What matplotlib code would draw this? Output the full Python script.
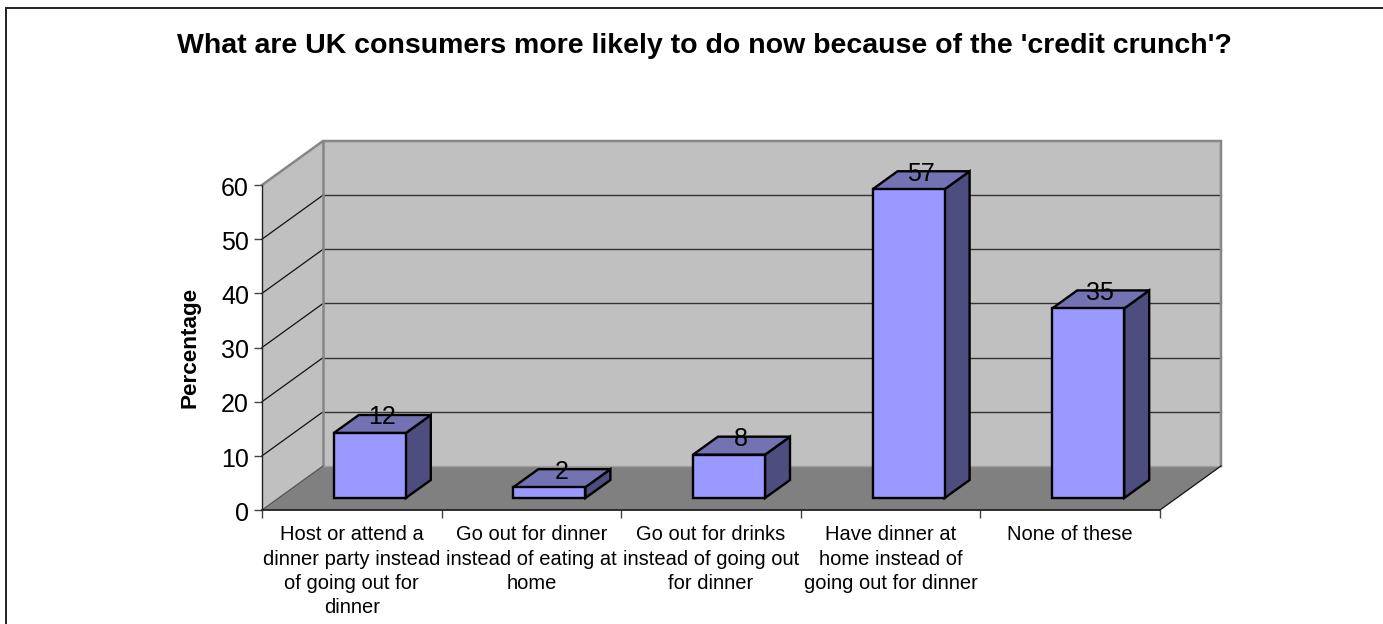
import matplotlib
matplotlib.use("Agg")
import matplotlib.pyplot as plt
from matplotlib.lines import Line2D
from matplotlib.patches import Polygon
from matplotlib.ticker import FixedLocator
from matplotlib.transforms import ScaledTranslation

categories = [
    "Host or attend a\ndinner party instead\nof going out for\ndinner",
    "Go out for dinner\ninstead of eating at\nhome",
    "Go out for drinks\ninstead of going out\nfor dinner",
    "Have dinner at\nhome instead of\ngoing out for dinner",
    "None of these",
]
percentages = [12, 2, 8, 57, 35]
y_ticks = [0, 10, 20, 30, 40, 50, 60]
title = "What are UK consumers more likely to do now because of the 'credit crunch'?"
y_label = "Percentage"

W, H = 1383, 624
plt.rcParams["font.family"] = ["Liberation Sans", "DejaVu Sans"]
fig = plt.figure(figsize=(W / 100, H / 100), dpi=100, facecolor="white")

# Front plane of the pseudo-3D box, in figure pixels
left, right, bottom, top = 262, 1160, 510, 185
ax = fig.add_axes([left / W, 1 - bottom / H, (right - left) / W, (bottom - top) / H])
ax.set_xlim(0, len(categories))
ax.set_ylim(0, 60)
ax.patch.set_visible(False)

cat_px = (right - left) / len(categories)
val_px = (bottom - top) / 60
# Oblique depth of the box and of the bars, in data units
box_dx, box_dy = 61 / cat_px, 44 / val_px
bar_dx, bar_dy = 25 / cat_px, 18 / val_px
base_dx, base_dy = 18 / cat_px, 12 / val_px
half_width = 36 / cat_px
n = len(categories)


def poly(pts, face, edge="none", lw=0.0, z=1):
    ax.add_patch(Polygon(pts, closed=True, facecolor=face, edgecolor=edge,
                         linewidth=lw, zorder=z, clip_on=False, joinstyle="miter"))


# Back wall, side wall and floor
poly([(box_dx, box_dy), (n + box_dx, box_dy), (n + box_dx, 60 + box_dy), (box_dx, 60 + box_dy)], "#c0c0c0", z=1)
poly([(0, 0), (box_dx, box_dy), (box_dx, 60 + box_dy), (0, 60)], "#c0c0c0", z=1)
poly([(0, 0), (n, 0), (n + box_dx, box_dy), (box_dx, box_dy)], "#808080", z=1.5)

# Gridlines wrap from the side wall across the back wall
for v in y_ticks[1:-1]:
    ax.plot([0, box_dx], [v, v + box_dy], color="#111111", lw=0.9, zorder=2, clip_on=False)
    ax.plot([box_dx, n + box_dx], [v + box_dy, v + box_dy], color="#333333", lw=1.0, zorder=2, clip_on=False)

# Grey box outline
grey = "#868686"
ax.plot([0, box_dx, n + box_dx, n + box_dx], [60, 60 + box_dy, 60 + box_dy, box_dy],
        color=grey, lw=1.8, zorder=2, clip_on=False, solid_joinstyle="miter")
ax.plot([box_dx, box_dx], [box_dy, 60 + box_dy], color=grey, lw=1.8, zorder=2, clip_on=False)
ax.plot([box_dx, n + box_dx], [box_dy, box_dy], color="#a0a0a0", lw=1.0, zorder=2, clip_on=False)
ax.plot([0, box_dx], [0, box_dy], color="#555555", lw=0.9, zorder=2, clip_on=False)
ax.plot([n, n + box_dx], [0, box_dy], color="#111111", lw=0.9, zorder=2, clip_on=False)

# Bars as three visible faces
for i, v in enumerate(percentages):
    x0 = i + 0.5 + base_dx - half_width
    x1 = i + 0.5 + base_dx + half_width
    y0 = base_dy
    y1 = base_dy + v
    poly([(x1, y0), (x1 + bar_dx, y0 + bar_dy), (x1 + bar_dx, y1 + bar_dy), (x1, y1)],
         "#4d4d80", "black", 1.7, 3)
    poly([(x0, y1), (x1, y1), (x1 + bar_dx, y1 + bar_dy), (x0 + bar_dx, y1 + bar_dy)],
         "#7373b3", "black", 1.7, 3)
    poly([(x0, y0), (x1, y0), (x1, y1), (x0, y1)], "#9999ff", "black", 1.7, 3.1)
    ax.text(x0 + half_width + 12 / cat_px, y1 + 15.5 / val_px, str(v), fontsize=18,
            ha="center", va="center", color="black", zorder=4)

# Axes
for s in ("top", "right"):
    ax.spines[s].set_visible(False)
ax.spines["left"].set_color("#222222")
ax.spines["left"].set_linewidth(1.0)
ax.spines["left"].set_zorder(2.5)
ax.spines["bottom"].set_color("#222222")
ax.spines["bottom"].set_linewidth(1.3)
ax.spines["bottom"].set_zorder(2.5)

ax.set_yticks(y_ticks)
ax.tick_params(axis="y", length=5.8, width=1.0, color="#444444", labelsize=18, pad=3.5)
nudge = ScaledTranslation(0, -1.2 / 100, fig.dpi_scale_trans)
for lab in ax.get_yticklabels():
    lab.set_transform(lab.get_transform() + nudge)
ax.set_xticks([i + 0.5 for i in range(n)])
ax.set_xticklabels(categories, fontsize=14.5, linespacing=1.35, va="top", ha="center")
ax.xaxis.set_minor_locator(FixedLocator(list(range(n + 1))))
ax.tick_params(axis="x", which="major", length=0, pad=11)
ax.tick_params(axis="x", which="minor", length=5.5, width=1.0, color="#444444")

fig.text(190 / W, 1 - 347.5 / H, y_label, rotation=90, fontsize=16.2, fontweight="bold",
         ha="center", va="center")
fig.text(704 / W, 1 - 46 / H, title, fontsize=20.5, fontweight="bold", ha="center", va="center")

# Chart frame runs along the top and left only
fig.add_artist(Line2D([6 / W, 6 / W, 1], [0, 1 - 8 / H, 1 - 8 / H], color="#222222", lw=1.4,
                      solid_joinstyle="miter"))

fig.savefig("out.png", dpi=100, facecolor="white")
